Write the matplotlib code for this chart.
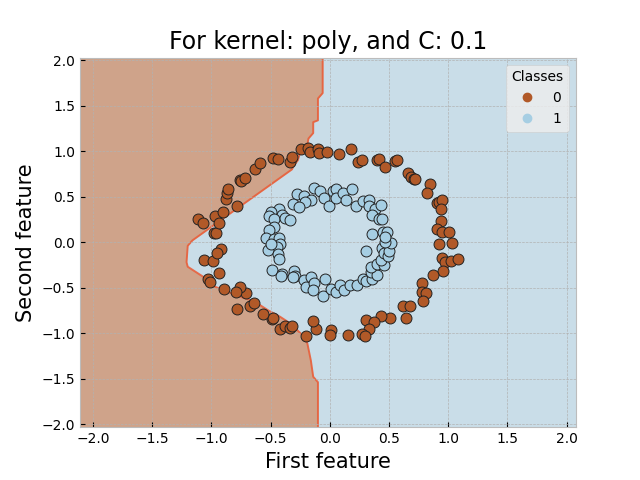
import numpy as np
import matplotlib
matplotlib.use("Agg")
import matplotlib.pyplot as plt
from matplotlib.lines import Line2D

plt.style.use("bmh")

# Class 0 (outer ring) points
x0 = [-0.24, -0.18, -0.17, -0.10, -0.09, -0.02, 0.08, 0.18, 0.24, 0.27,
      0.40, 0.42, 0.47, 0.55, 0.57, 0.66, 0.69, 0.71, 0.72, 0.85,
      0.82, 0.91, 0.92, 0.95, 0.94, 0.94, 0.91, 0.95, 1.01, 0.92,
      1.03, 0.95, 0.97, 1.02, 1.08, 0.96, 0.87, 0.78, 0.78, 0.81,
      0.79, 0.62, 0.68, 0.64, 0.51, 0.43, 0.31, 0.37, 0.33, 0.27,
      0.30, 0.15, 0.01, 0.00, -0.12, -0.14, -0.20, -0.42, -0.38, -0.34,
      -0.32, -0.49, -0.48, -0.56, -0.67, -0.64, -0.78, -0.71, -0.76, -0.79,
      -0.89, -1.03, -1.01, -0.94, -1.06, -0.99, -0.92, -0.95, -0.98, -0.96,
      -1.11, -1.07, -0.97, -0.90, -0.94, -0.78, -0.88, -0.87, -0.86, -0.76,
      -0.75, -0.72, -0.63, -0.59, -0.48, -0.44, -0.34, -0.32]
y0 = [1.02, 1.04, 0.99, 1.03, 0.98, 0.99, 0.97, 1.02, 0.88, 0.90,
      0.90, 0.91, 0.83, 0.89, 0.90, 0.76, 0.72, 0.69, 0.70, 0.64,
      0.54, 0.43, 0.44, 0.46, 0.37, 0.23, 0.15, 0.11, 0.11, -0.02,
      -0.01, -0.17, -0.22, -0.21, -0.18, -0.32, -0.36, -0.45, -0.55, -0.56,
      -0.65, -0.70, -0.70, -0.83, -0.83, -0.81, -0.86, -0.88, -0.95, -1.01,
      -1.03, -1.02, -0.97, -1.02, -0.95, -0.87, -1.03, -0.96, -0.92, -0.94,
      -0.92, -0.85, -0.83, -0.79, -0.70, -0.67, -0.73, -0.56, -0.49, -0.55,
      -0.52, -0.40, -0.44, -0.34, -0.20, -0.21, -0.07, -0.12, 0.10, 0.10,
      0.25, 0.21, 0.29, 0.33, 0.21, 0.40, 0.48, 0.54, 0.59, 0.68,
      0.67, 0.71, 0.81, 0.87, 0.93, 0.91, 0.88, 0.94]

# Class 1 (inner ring) points
x1 = [-0.28, -0.22, -0.16, -0.21, -0.31, -0.26, -0.13, -0.08, -0.05, -0.01,
      0.03, 0.05, 0.05, 0.11, 0.14, 0.19, 0.22, 0.28, 0.33, 0.33,
      0.38, 0.43, 0.36, 0.42, 0.44, -0.43, -0.50, -0.40, -0.51, -0.47,
      -0.38, -0.34, -0.47, -0.51, -0.54, -0.47, -0.43, -0.42, -0.45, -0.52,
      -0.44, -0.43, -0.50, -0.49, -0.40, -0.41, -0.30, -0.29, -0.31, -0.22,
      -0.20, -0.16, -0.13, -0.04, -0.14, -0.06, 0.01, 0.05, 0.09, 0.12,
      0.17, 0.23, 0.28, 0.31, 0.36, 0.35, 0.40, 0.35, 0.40, 0.46,
      0.43, 0.31, 0.44, 0.46, 0.49, 0.50, 0.52, 0.47, 0.36, 0.45,
      0.48, 0.47]
y1 = [0.53, 0.51, 0.46, 0.44, 0.42, 0.39, 0.60, 0.56, 0.49, 0.40,
      0.56, 0.59, 0.49, 0.54, 0.46, 0.59, 0.40, 0.45, 0.46, 0.40,
      0.37, 0.41, 0.30, 0.25, 0.25, 0.37, 0.33, 0.30, 0.29, 0.25,
      0.27, 0.24, 0.17, 0.13, 0.05, 0.04, 0.05, -0.02, -0.05, -0.09,
      -0.13, -0.19, -0.02, -0.31, -0.35, -0.37, -0.32, -0.37, -0.38, -0.42,
      -0.49, -0.38, -0.45, -0.41, -0.53, -0.59, -0.51, -0.55, -0.47, -0.53,
      -0.47, -0.47, -0.41, -0.43, -0.41, -0.33, -0.36, -0.27, -0.24, -0.25,
      -0.20, -0.10, -0.06, -0.12, -0.15, -0.10, -0.01, 0.00, 0.09, 0.11,
      0.11, 0.06]

# Decision boundary (x position of the class border for each y)
boundary_y = [2.03, 1.64, 1.58, 1.34, 1.32, 1.20, 1.14, 1.07, 0.99, 0.90,
              0.85, 0.80, 0.02, -0.04, -0.22, -0.27, -0.38, -0.48, -0.53, -0.59,
              -0.65, -0.75, -0.82, -0.88, -0.95, -1.01, -1.11, -1.30, -1.48, -1.54,
              -2.035]
boundary_x = [-0.06, -0.06, -0.10, -0.10, -0.14, -0.14, -0.18, -0.19, -0.25, -0.27,
              -0.30, -0.32, -1.16, -1.20, -1.21, -1.20, -1.07, -0.99, -0.89, -0.78,
              -0.64, -0.52, -0.42, -0.35, -0.29, -0.24, -0.19, -0.16, -0.14, -0.10,
              -0.10]

class_labels = ["0", "1"]
xlim = (-2.11, 2.08)
ylim = (-2.035, 2.03)

cmap = plt.cm.Paired_r
c0 = cmap(0.0)
c1 = cmap(1.0)

fig, ax = plt.subplots(figsize=(6.4, 4.8), dpi=100)

by = np.array(boundary_y)
bx = np.array(boundary_x)
ax.fill_betweenx(by, xlim[0], bx, color=c0, alpha=0.5, linewidth=0, zorder=1)
ax.fill_betweenx(by, bx, xlim[1], color=c1, alpha=0.5, linewidth=0, zorder=1)
ax.plot(bx, by, color="#e8603c", linewidth=1.4, alpha=0.9, zorder=1.2)

ax.scatter(x0, y0, s=62, color=c0, edgecolors="#222222", linewidths=0.7, zorder=3)
ax.scatter(x1, y1, s=62, color=c1, edgecolors="#222222", linewidths=0.7, zorder=3)

ax.set_xlim(*xlim)
ax.set_ylim(*ylim)
ax.set_xlabel("First feature", fontsize=15)
ax.set_ylabel("Second feature", fontsize=15)
ax.set_title("For kernel: poly, and C: 0.1", fontsize=17)

handles = [Line2D([], [], marker="o", linestyle="", color=c0, markersize=6),
           Line2D([], [], marker="o", linestyle="", color=c1, markersize=6)]
ax.legend(handles, class_labels, title="Classes", loc="upper right")

fig.savefig("out.png", dpi=100)
